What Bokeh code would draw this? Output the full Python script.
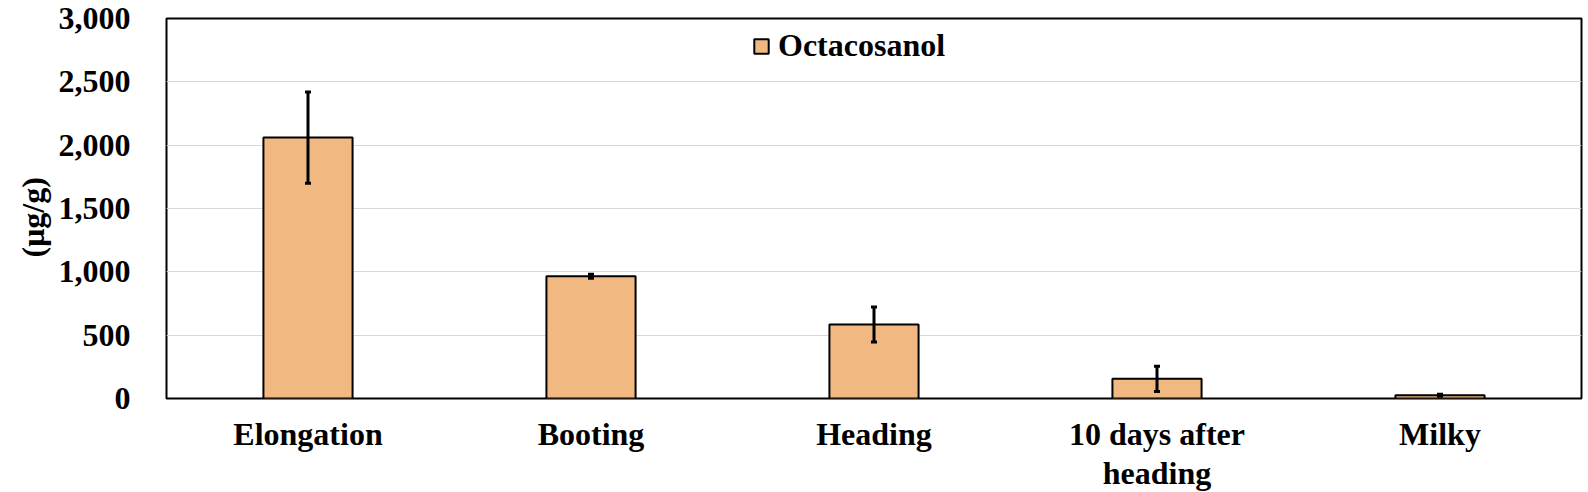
from bokeh.plotting import figure
from bokeh.models import (ColumnDataSource, FactorRange, Range1d, FixedTicker,
                          NumeralTickFormatter, Whisker, Legend, LegendItem, TeeHead, Title)
from bokeh.embed import file_html
from bokeh.resources import INLINE

stages = ["Elongation", "Booting", "Heading", "10 days after\nheading", "Milky"]
octacosanol = [2060, 965, 585, 155, 25]
octacosanol_err = [360, 15, 138, 99, 8]
y_ticks = [0, 500, 1000, 1500, 2000, 2500, 3000]
series_name = "Octacosanol"
y_title = "(μg/g)"

FONT = "Liberation Serif"
BAR = "#F1B882"
FS = "32px"

src = ColumnDataSource(dict(
    x=stages,
    top=octacosanol,
    upper=[v + e for v, e in zip(octacosanol, octacosanol_err)],
    lower=[v - e for v, e in zip(octacosanol, octacosanol_err)],
))

p = figure(frame_width=1415, frame_height=380,
           x_range=FactorRange(*stages, range_padding=0),
           y_range=Range1d(0, 3000), output_backend="svg", toolbar_location=None,
           min_border_left=166, min_border_right=7, min_border_top=18, min_border_bottom=94)

r = p.vbar(x="x", top="top", width=0.315, source=src, fill_color=BAR,
           line_color="black", line_width=2)

w = Whisker(base="x", upper="upper", lower="lower", source=src, line_color="black",
            line_width=3, level="overlay",
            upper_head=TeeHead(size=6, line_width=3, line_color="black"),
            lower_head=TeeHead(size=6, line_width=3, line_color="black"))
p.add_layout(w)

p.outline_line_color = "black"
p.outline_line_width = 2
p.xgrid.grid_line_color = None
p.ygrid.grid_line_color = "#d9d9d9"
p.ygrid.grid_line_width = 1

p.yaxis.ticker = FixedTicker(ticks=y_ticks)
p.yaxis.formatter = NumeralTickFormatter(format="0,0")
for ax in (p.xaxis[0], p.yaxis[0]):
    ax.axis_line_color = None
    ax.major_tick_line_color = None
    ax.minor_tick_line_color = None
    ax.major_tick_out = 0
    ax.major_tick_in = 0
    ax.minor_tick_out = 0
    ax.major_label_text_font = FONT
    ax.major_label_text_font_style = "bold"
    ax.major_label_text_font_size = FS
    ax.major_label_text_color = "black"
p.yaxis.major_label_standoff = 36
p.xaxis.major_label_standoff = 17
p.xaxis.major_label_text_line_height = 1.1

ytitle = Title(text=y_title, align="left", offset=141, standoff=10,
               text_font=FONT, text_font_style="bold", text_font_size="32px",
               text_color="black")
p.add_layout(ytitle, "left")

legend = Legend(items=[LegendItem(label=series_name, renderers=[r])],
                location=(586, 334), orientation="horizontal",
                border_line_color=None, background_fill_alpha=0,
                label_text_font=FONT, label_text_font_style="bold",
                label_text_font_size=FS, label_text_color="black",
                glyph_width=18, glyph_height=18,
                padding=0, margin=0, label_standoff=8)
p.add_layout(legend)

open("out.html", "w").write(file_html(p, INLINE))
